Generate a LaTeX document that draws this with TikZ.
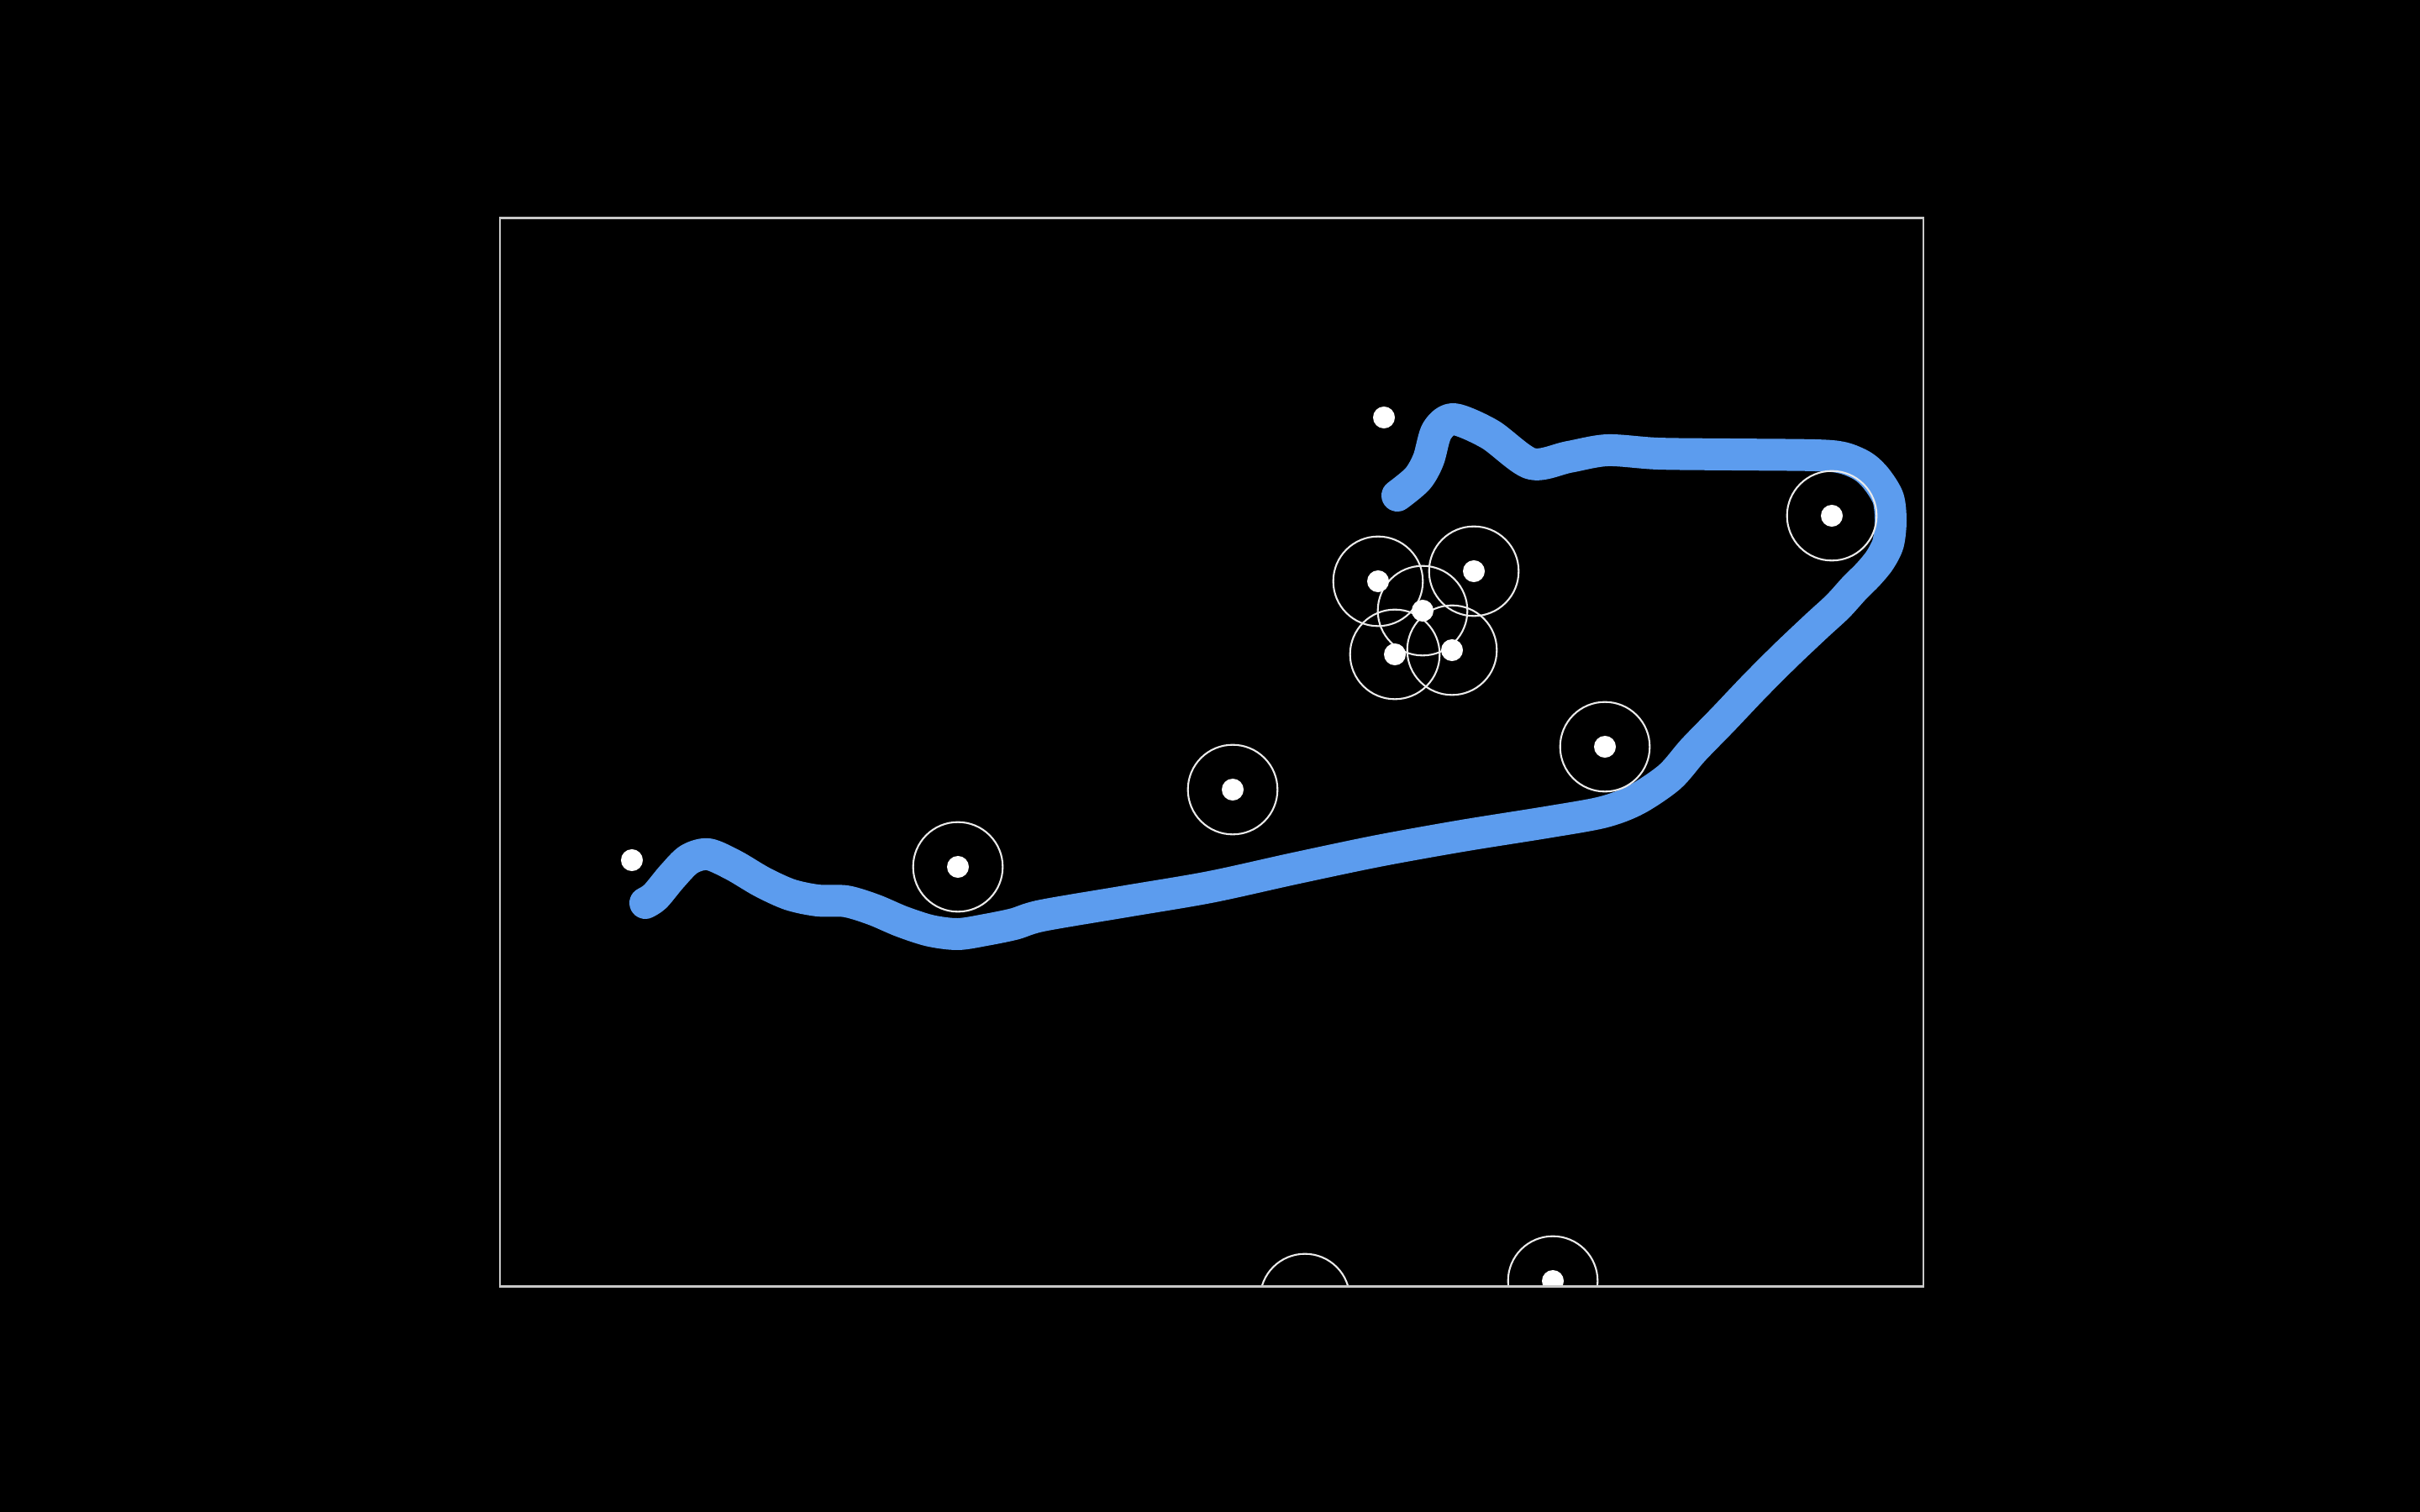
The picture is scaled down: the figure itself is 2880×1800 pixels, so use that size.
\documentclass[tikz,border=0pt]{standalone}
\definecolor{trackc}{RGB}{92,156,238}
\definecolor{framec}{RGB}{200,200,200}
\definecolor{ringc}{RGB}{235,235,235}
\begin{document}
\begin{tikzpicture}[x=0.01cm,y=-0.01cm,
  ring/.style={circle, draw=ringc, line width=0.6pt, minimum size=1.066cm, inner sep=0pt, outer sep=0pt},
  dot/.style={circle, fill=white, minimum size=0.26cm, inner sep=0pt, outer sep=0pt},
  track/.style={draw=trackc, line width=10.8pt, line cap=round, line join=round},
  framebox/.style={draw=framec, line width=0.6pt}]
\fill[black] (0,0) rectangle (2880,1800);
\useasboundingbox (0,0) rectangle (2880,1800);
\begin{scope}
\clip (595,259.5) rectangle (2289,1531.5);
\draw[track] plot[smooth, tension=0.5] coordinates {
(768,1075) (780,1067) (800,1043) (820,1023) (843,1017) (873,1030) (907,1050)
(940,1065) (973,1072) (1007,1073) (1040,1083) (1073,1097) (1107,1108) (1140,1112)
(1173,1107) (1207,1100) (1240,1090) (1340,1073) (1440,1056) (1540,1034) (1640,1013)
(1740,995) (1840,979) (1907,967) (1947,952) (1987,925) (2015,893) (2050,857)
(2088,817) (2125,780) (2162,745) (2187,722) (2207,700) (2223,684) (2237,667)
(2247,647) (2250,620) (2247,593) (2233,570) (2217,555) (2193,545) (2160,542)
(2060,541) (1973,540) (1913,536) (1867,544) (1822,552) (1773,517) (1730,499)
(1710,513) (1700,547) (1687,570) (1663,590)};
\node[ring] (r1) at (1140,1032) {};
\node[ring] (r2) at (1467,940) {};
\node[ring] (r3) at (1640,692) {};
\node[ring] (r4) at (1754,680) {};
\node[ring] (r5) at (1693,727) {};
\node[ring] (r6) at (1660,779) {};
\node[ring] (r7) at (1728,774) {};
\node[ring] (r8) at (1910,889) {};
\node[ring] (r9) at (2180,614) {};
\node[ring] (r10) at (1553,1546) {};
\node[ring] (r11) at (1848,1525) {};
\node[dot] (d1) at (1140,1032) {};
\node[dot] (d2) at (1467,940) {};
\node[dot] (d3) at (1640,692) {};
\node[dot] (d4) at (1754,680) {};
\node[dot] (d5) at (1693,727) {};
\node[dot] (d6) at (1660,779) {};
\node[dot] (d7) at (1728,774) {};
\node[dot] (d8) at (1910,889) {};
\node[dot] (d9) at (2180,614) {};
\node[dot] (d10) at (1553,1546) {};
\node[dot] (d11) at (1848,1525) {};
\node[dot] (d12) at (752,1024) {};
\node[dot] (d13) at (1647,497) {};
\end{scope}
\draw[framebox] (595,259.5) rectangle (2289,1531.5);
\end{tikzpicture}
\end{document}
